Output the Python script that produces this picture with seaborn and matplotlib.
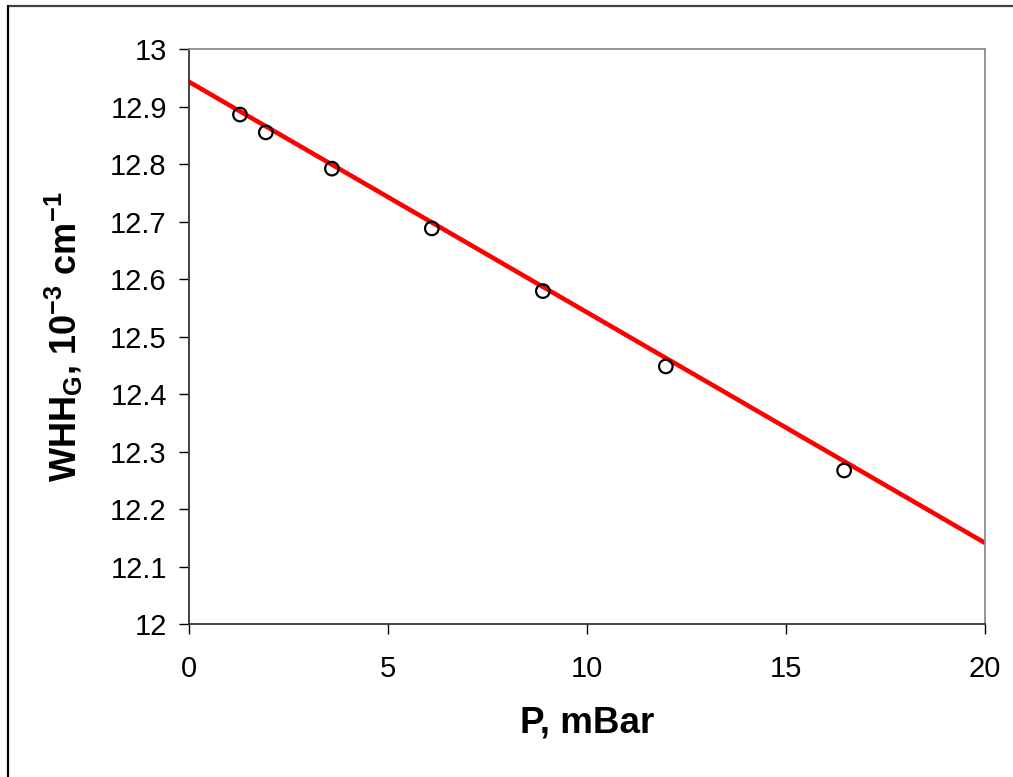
import numpy as np
import pandas as pd
import matplotlib
matplotlib.use("Agg")
import matplotlib.pyplot as plt
from matplotlib.lines import Line2D
import seaborn as sns

pressure = [1.28, 1.93, 3.59, 6.10, 8.89, 11.98, 16.46]
whh_g = [12.886, 12.855, 12.792, 12.688, 12.579, 12.448, 12.267]

# linear fit line, end values read at the axis limits
fit_p = [0, 20]
fit_whh = [12.943, 12.141]

x_ticks = [0, 5, 10, 15, 20]
y_ticks = [12, 12.1, 12.2, 12.3, 12.4, 12.5, 12.6, 12.7, 12.8, 12.9, 13]
y_tick_labels = ["12", "12.1", "12.2", "12.3", "12.4", "12.5", "12.6",
                 "12.7", "12.8", "12.9", "13"]

pts = pd.DataFrame({"P": pressure, "WHH": whh_g})
fit = pd.DataFrame({"P": fit_p, "WHH": fit_whh})

sns.set_style("white")
plt.rcParams["font.family"] = ["Liberation Sans", "DejaVu Sans"]
plt.rcParams["text.color"] = "black"
plt.rcParams["axes.labelcolor"] = "black"
plt.rcParams["xtick.color"] = "black"
plt.rcParams["ytick.color"] = "black"
# math parts (sub/superscripts) use the surrounding bold upright font
plt.rcParams["mathtext.default"] = "regular"

fig = plt.figure(figsize=(10.13, 7.77), dpi=100)
ax = fig.add_axes([0.1866, 0.1969, 0.7858, 0.7400])

# partial outer frame (top and left edges visible in the crop)
fx = 7.5 / 1013
fy = 1 - 5.5 / 777
fig.add_artist(Line2D([fx, 1], [fy, fy], transform=fig.transFigure,
                      color="#404040", linewidth=1.6))
fig.add_artist(Line2D([fx, fx], [0, fy], transform=fig.transFigure,
                      color="black", linewidth=1.6))

sns.lineplot(data=fit, x="P", y="WHH", color="#ff0000", linewidth=3.3, ax=ax)
sns.scatterplot(data=pts, x="P", y="WHH", marker="o", s=95, facecolor="none",
                edgecolor="black", linewidth=1.6, ax=ax, zorder=3)

ax.set_xlim(0, 20)
ax.set_ylim(12, 13)
ax.set_xticks(x_ticks)
ax.set_yticks(y_ticks)
ax.set_yticklabels(y_tick_labels)
ax.tick_params(axis="both", direction="out", length=7, width=1,
               labelsize=21, left=True, bottom=True)
ax.tick_params(axis="y", pad=9)
ax.tick_params(axis="x", pad=15)

for side in ["left", "bottom"]:
    ax.spines[side].set_color("#333333")
    ax.spines[side].set_linewidth(1.3)
for side in ["top", "right"]:
    ax.spines[side].set_color("#8c8c8c")
    ax.spines[side].set_linewidth(1.3)

ax.set_xlabel("P, mBar", fontsize=26.5, fontweight="bold")
ax.set_ylabel("WHH$_G$, 10$^{-3}$ cm$^{-1}$", fontsize=26, fontweight="bold")
ax.xaxis.set_label_coords(0.5, -0.142)
ax.yaxis.set_label_coords(-0.131, 0.5)

fig.savefig("out.png", dpi=100)
